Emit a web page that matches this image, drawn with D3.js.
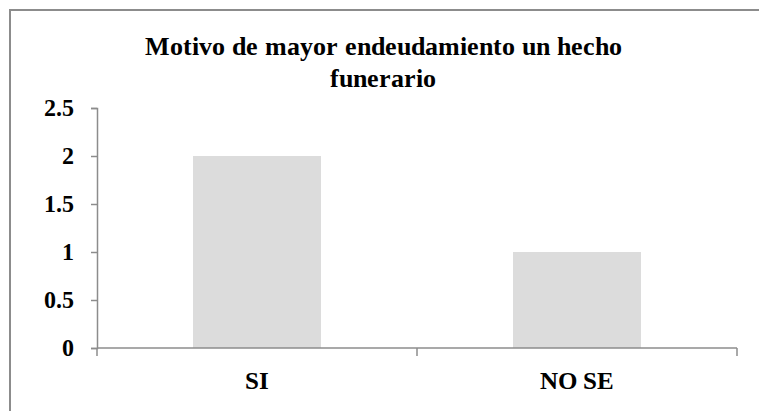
<!DOCTYPE html>
<html>
<head>
<meta charset="utf-8">
<script src="https://cdn.jsdelivr.net/npm/d3@7"></script>
<style>
  @font-face {
    font-family: "ChartSerif";
    src: local("Liberation Serif Bold"), local("LiberationSerif-Bold"), local("Tinos Bold"), local("Times New Roman Bold");
    font-weight: bold;
  }
  html, body { margin: 0; padding: 0; background: #fff; }
  svg { display: block; }
</style>
</head>
<body>
<svg id="chart" width="759" height="411"></svg>
<script>
// Data
const categories = ["SI", "NO SE"];
const values = [2, 1];
const yTicks = [0, 0.5, 1, 1.5, 2, 2.5];
const titleLines = ["Motivo de mayor endeudamiento un hecho", "funerario"];

const width = 759, height = 411;
const margin = { top: 108, right: 22, bottom: 63, left: 97 };
const serif = '"ChartSerif", "Liberation Serif", serif';
const axisColor = "#8c8c8c";

const svg = d3.select("#chart");

// title
svg.selectAll("text.title")
    .data(titleLines)
    .join("text")
    .attr("class", "title")
    .attr("x", 383)
    .attr("y", (d, i) => 55 + i * 32)
    .attr("text-anchor", "middle")
    .style("font-family", serif)
    .style("font-weight", "bold")
    .style("font-size", "26px")
    .text(d => d);

// chart frame (only top and left edges show in the crop)
svg.append("path")
    .attr("d", `M10,${height + 2} L10,10 L${width + 2},10`)
    .attr("fill", "none")
    .attr("stroke", axisColor)
    .attr("stroke-width", 2);

const x = d3.scaleBand()
    .domain(categories)
    .range([margin.left, width - margin.right])
    .paddingInner(0.6)
    .paddingOuter(0.3);

const y = d3.scaleLinear()
    .domain([0, 2.5])
    .range([height - margin.bottom, margin.top]);

// bars
svg.selectAll("rect.bar")
    .data(categories)
    .join("rect")
    .attr("class", "bar")
    .attr("x", d => x(d))
    .attr("y", (d, i) => y(values[i]))
    .attr("width", x.bandwidth())
    .attr("height", (d, i) => y(0) - y(values[i]))
    .attr("fill", "#dcdcdc");

// y axis
const yAxis = svg.append("g")
    .attr("transform", `translate(${margin.left},0)`)
    .call(d3.axisLeft(y).tickValues(yTicks).tickSize(6).tickPadding(17).tickFormat(d3.format("")));
yAxis.attr("font-family", null).attr("font-size", null);
yAxis.select(".domain").attr("stroke", axisColor).attr("stroke-width", 1.5);
yAxis.selectAll(".tick line").attr("stroke", axisColor).attr("stroke-width", 1.5);
yAxis.selectAll("text")
    .attr("fill", "#000")
    .style("font-family", serif)
    .style("font-weight", "bold")
    .style("font-size", "24px");

// x axis: ticks at band edges, like a category axis
const xBase = y(0);
svg.append("line")
    .attr("x1", margin.left).attr("x2", width - margin.right)
    .attr("y1", xBase).attr("y2", xBase)
    .attr("stroke", axisColor).attr("stroke-width", 1.5);
const edges = [margin.left, ...categories.slice(1).map(d => x(d) - x.step() * x.paddingInner() / 2), width - margin.right];
svg.selectAll("line.edge")
    .data(edges)
    .join("line")
    .attr("class", "edge")
    .attr("x1", d => d).attr("x2", d => d)
    .attr("y1", xBase).attr("y2", xBase + 8)
    .attr("stroke", axisColor).attr("stroke-width", 1.5);
svg.selectAll("text.cat")
    .data(categories)
    .join("text")
    .attr("class", "cat")
    .attr("x", d => x(d) + x.bandwidth() / 2)
    .attr("y", 389)
    .attr("text-anchor", "middle")
    .style("font-family", serif)
    .style("font-weight", "bold")
    .style("font-size", "25px")
    .text(d => d);
</script>
</body>
</html>
